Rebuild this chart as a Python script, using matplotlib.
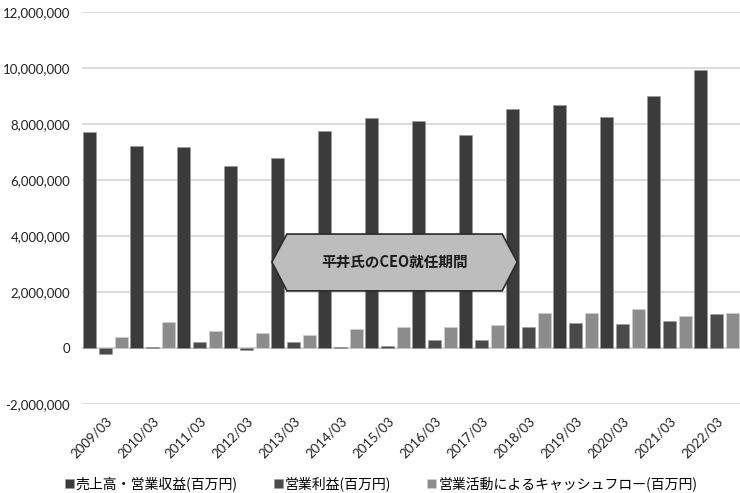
import matplotlib.pyplot as plt
from matplotlib.patches import Polygon
from matplotlib.ticker import FuncFormatter
import numpy as np

plt.rcParams['font.family'] = ['Lato', 'Noto Sans CJK JP', 'DejaVu Sans']

periods = ['2009/03', '2010/03', '2011/03', '2012/03', '2013/03', '2014/03', '2015/03',
           '2016/03', '2017/03', '2018/03', '2019/03', '2020/03', '2021/03', '2022/03']
sales = [7730000, 7214000, 7181000, 6493000, 6801000, 7767000, 8216000,
         8106000, 7603000, 8544000, 8666000, 8260000, 8999000, 9922000]
op_income = [-228000, 32000, 200000, -67000, 230000, 26000, 69000,
             294000, 289000, 735000, 894000, 845000, 972000, 1202000]
op_cf = [407000, 930000, 625000, 540000, 472000, 680000, 760000,
         760000, 820000, 1255000, 1260000, 1380000, 1150000, 1240000]
labels = ['売上高・営業収益(百万円)', '営業利益(百万円)', '営業活動によるキャッシュフロー(百万円)']

x = np.arange(len(periods))
step = 1 / 3
w = 0.28

fig = plt.figure(figsize=(7.4, 4.93), dpi=100)
ax = fig.add_axes([82 / 740, 1 - 404 / 493, 1 - 82 / 740, 392 / 493])

ax.bar(x - step, sales, w, color='#3b3b3b', edgecolor='#9a9a9a', linewidth=0.4,
       label=labels[0], zorder=2)
ax.bar(x, op_income, w, color='#4a4a4a', edgecolor='#9a9a9a', linewidth=0.4,
       label=labels[1], zorder=2)
ax.bar(x + step, op_cf, w, color='#8c8c8c', edgecolor='#cfcfcf', linewidth=0.5,
       label=labels[2], zorder=2)

ax.set_xlim(-0.5, len(periods) - 0.5)
ax.set_ylim(-2000000, 12000000)
ax.set_yticks(np.arange(-2000000, 12000001, 2000000))
ax.yaxis.set_major_formatter(FuncFormatter(lambda v, p: f'{int(v):,}'))
ax.grid(axis='y', color='#d4d4d4', linewidth=1.2, zorder=0)
ax.axhline(0, color='#d4d4d4', linewidth=1.2, zorder=1)
for s in ax.spines.values():
    s.set_visible(False)
ax.tick_params(axis='both', length=0, colors='#222222')
ax.tick_params(axis='y', pad=8.5, labelsize=9.5)
ax.set_xticks(x)
ax.set_xticklabels(periods, rotation=45, ha='right', rotation_mode='anchor', fontsize=9.5)
ax.tick_params(axis='x', pad=8)

# CEO tenure banner
hexa = [(3.54, 3070000), (3.86, 4070000), (8.44, 4070000), (8.76, 3070000),
        (8.44, 2040000), (3.86, 2040000)]
ax.add_patch(Polygon(hexa, closed=True, facecolor='#bdbdbd', edgecolor='#2a2a2a',
                     linewidth=1.2, zorder=4))
ax.text(6.15, 3070000, '平井氏のCEO就任期間', ha='center', va='center', fontsize=10.5,
        fontweight='bold', color='#1a1a1a', zorder=5,
        family=['Noto Sans CJK JP', 'DejaVu Sans'])

fig.legend(loc='lower center', ncol=3, bbox_to_anchor=(0.515, -0.022), frameon=False,
           handlelength=0.65, handleheight=0.65, handletextpad=0.15, columnspacing=2.6,
           prop={'family': ['Noto Sans CJK JP', 'DejaVu Sans'], 'size': 10})

fig.savefig('out.png', dpi=100)
